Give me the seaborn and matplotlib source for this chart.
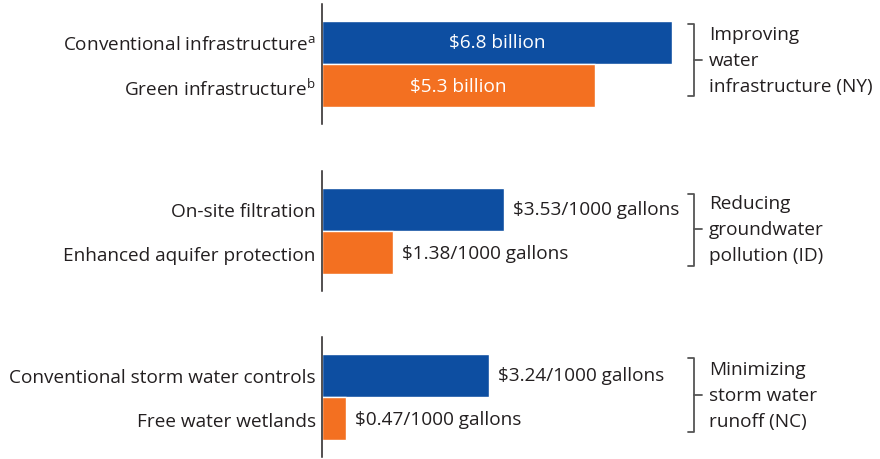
"""
Cost comparison of conventional vs. green options, three case studies.
Grouped horizontal bars, one small axes per case study, bracket labels on the right.
"""

import matplotlib

matplotlib.use("Agg")
import matplotlib.pyplot as plt
import seaborn as sns
import pandas as pd
from matplotlib.lines import Line2D

###############################################
# data
###############################################
group_titles = [
    "Improving\nwater\ninfrastructure (NY)",
    "Reducing\ngroundwater\npollution (ID)",
    "Minimizing\nstorm water\nrunoff (NC)",
]

bar_labels = [
    [r"Conventional infrastructure$^{\mathrm{a}}$", r"Green infrastructure$^{\mathrm{b}}$"],
    ["On-site filtration", "Enhanced aquifer protection"],
    ["Conventional storm water controls", "Free water wetlands"],
]

bar_values = [
    [6.8, 5.3],
    [3.53, 1.38],
    [3.24, 0.47],
]

value_text = [
    [r"\$6.8 billion", r"\$5.3 billion"],
    [r"\$3.53/1000 gallons", r"\$1.38/1000 gallons"],
    [r"\$3.24/1000 gallons", r"\$0.47/1000 gallons"],
]

###############################################
# style
###############################################
BLUE = "#0d4ea1"
ORANGE = "#f37021"
INK = "#231f20"
FONT = "Open Sans"
FS = 13.7

sns.set_style("white")
plt.rcParams["font.family"] = [FONT, "DejaVu Sans"]
plt.rcParams["mathtext.fontset"] = "custom"
plt.rcParams["mathtext.rm"] = FONT
plt.rcParams["text.color"] = INK

W, H = 880, 460
fig = plt.figure(figsize=(W / 100, H / 100), dpi=100)

# pixel layout of each small axes (top edge), all share the same x scale
axes_tops = [5, 172, 338]
ax_left, ax_w, ax_h = 322, 350, 120
bracket_spans = [(25, 97, 61), (195, 267, 230), (359, 433, 396)]


def fx(px):
    return px / W


def fy(py):
    return 1 - py / H


for i in range(3):
    top = axes_tops[i]
    ax = fig.add_axes([fx(ax_left), fy(top + ax_h), ax_w / W, ax_h / H])

    df = pd.DataFrame({"label": bar_labels[i], "value": bar_values[i]})
    sns.barplot(
        data=df,
        x="value",
        y="label",
        hue="label",
        palette=[BLUE, ORANGE],
        width=1.0,
        orient="h",
        legend=False,
        saturation=1,
        ax=ax,
    )

    ax.set_xlim(0, 6.8)
    ax.set_ylim(1.88, -0.88)
    ax.set_xlabel("")
    ax.set_ylabel("")
    ax.set_xticks([])
    ax.tick_params(axis="y", length=0, pad=4.5, labelsize=FS, labelcolor=INK)
    for side in ["top", "right", "bottom"]:
        ax.spines[side].set_visible(False)
    ax.spines["left"].set_color(INK)
    ax.spines["left"].set_linewidth(1.1)

    # value labels: inside for the first group, outside for the others
    for cont, txt in zip(ax.containers, value_text[i]):
        if i == 0:
            ax.bar_label(cont, labels=[txt], label_type="center",
                         color="white", fontsize=FS)
        else:
            ax.bar_label(cont, labels=[txt], label_type="edge",
                         padding=6.5, color=INK, fontsize=FS)

    # bracket + group title on the right
    y0, y1, ym = bracket_spans[i]
    xl, xr, xt = 688, 694, 702
    pts_x = [fx(xl), fx(xr), fx(xr), fx(xl)]
    pts_y = [fy(y0), fy(y0), fy(y1), fy(y1)]
    fig.add_artist(Line2D(pts_x, pts_y, color="#555555", lw=1.3,
                          transform=fig.transFigure))
    fig.add_artist(Line2D([fx(xr), fx(xt)], [fy(ym), fy(ym)], color="#555555",
                          lw=1.3, transform=fig.transFigure))
    fig.text(fx(709), fy(ym), group_titles[i], ha="left", va="center",
             fontsize=FS, linespacing=1.55, color=INK)

fig.savefig("out.png", dpi=100)
